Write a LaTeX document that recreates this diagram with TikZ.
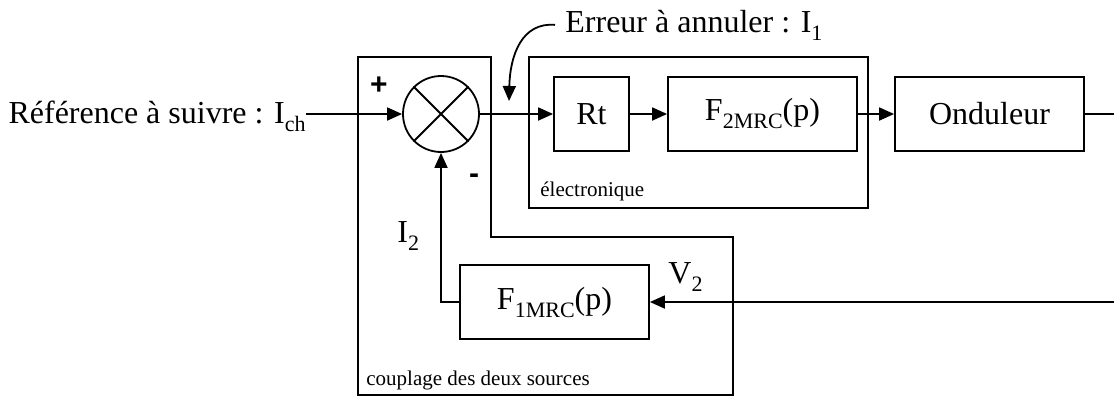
\documentclass[tikz,border=0pt]{standalone}
\usepackage{fontspec}
\setmainfont{Liberation Serif}
\newfontfamily\signefont{Liberation Sans}
\usetikzlibrary{arrows.meta, positioning}
\newcommand{\indice}[1]{\raisebox{-4pt}{\fontsize{11}{12}\selectfont #1}}
\tikzset{
  bloc/.style={draw, line width=0.9pt, minimum height=37pt, inner sep=0pt},
  fleche/.style={-{Triangle[length=7.5pt,width=6.5pt]}, line width=0.9pt},
  trait/.style={line width=0.9pt},
  cadre/.style={line width=0.7pt},
  texte/.style={anchor=base west, inner sep=0pt},
  petit/.style={font=\fontsize{10.5}{12}\selectfont},
  signe/.style={font=\signefont\bfseries\fontsize{15}{18}\selectfont, inner sep=0pt},
  every node/.append style={font=\fontsize{16}{19}\selectfont}
}

\begin{document}
\begin{tikzpicture}[x=0.5pt,y=-0.5pt]
\useasboundingbox (0,0) rectangle (1114,397);
\draw[cadre] (358,57) -- (491,57) -- (491,237) -- (733,237) -- (733,395) -- (358,395) -- cycle;
\draw[cadre] (529,57) rectangle (868,208);
\node[draw, circle, trait, minimum size=38pt, inner sep=0pt] (som) at (441,114) {};
\draw[trait] (som.45) -- (som.225) (som.135) -- (som.315);
\node[bloc, minimum width=37.5pt] (rt) at (591.5,114) {Rt};
\node[bloc, minimum width=94.5pt] (f2) at (762.5,114) {F\indice{2MRC}(p)};
\node[bloc, minimum width=94.5pt] (ond) at (989.5,114) {Onduleur};
\node[bloc, minimum width=94.5pt] (f1) at (554.5,302) {F\indice{1MRC}(p)};
\coordinate (sortie) at (1114,114);
\coordinate (retour) at (1114,302);
\coordinate (pointe) at (509,101);
\node[anchor=base east, inner sep=0pt] (ref) at (306,123) {Référence à suivre : I\indice{ch}};
\node[texte, inner xsep=5pt] (err) at (555,32) {Erreur à annuler : I\indice{1}};
\node[texte] (i2) at (397,242) {I\indice{2}};
\node[texte] (v2) at (668,283) {V\indice{2}};
\node[signe] (plus) at (379,86) {+};
\node[signe] (moins) at (474,179) {-};
\node[texte, petit] (elec) at (540,196) {électronique};
\node[texte, petit] (coupl) at (366,385) {couplage des deux sources};
\draw[fleche] (ref.east |- som) -- (som.west);
\draw[fleche] (som.east) -- (rt.west);
\draw[fleche] (rt.east) -- (f2.west);
\draw[fleche] (f2.east) -- (ond.west);
\draw[trait] (ond.east) -- (sortie);
\draw[fleche] (retour) -- (f1.east);
\draw[fleche] (f1.west) -| (som.south);
\draw[fleche] (err.west) .. controls (522,22) and (510,55) .. (pointe);
\end{tikzpicture}
\end{document}
